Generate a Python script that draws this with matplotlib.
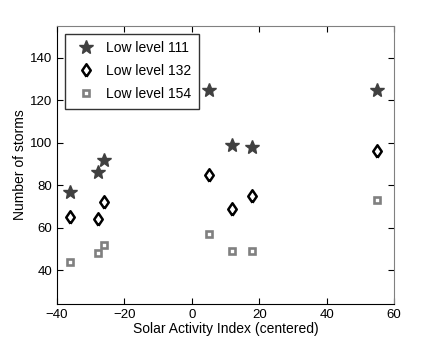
import matplotlib
matplotlib.use('Agg')
import matplotlib.pyplot as plt

plt.rcParams['font.family'] = ['Liberation Sans', 'DejaVu Sans']

# data
solar_x = [-36, -27.7, -26, 5, 12, 18, 55]
storms_111 = [77, 86, 92, 125, 99, 98, 125]
storms_132 = [65, 64, 72, 85, 69, 75, 96]
storms_154 = [44, 48, 52, 57, 49, 49, 73]

# matlab-style diamond, a bit fatter than matplotlib's 'd'
diamond = [(0, -1), (0.68, 0), (0, 1), (-0.68, 0), (0, -1)]

fig = plt.figure(figsize=(4.36, 3.43), dpi=100)
ax = fig.add_axes([57/436.0, 1 - 304/343.0, 337/436.0, 278/343.0])

ax.plot(solar_x, storms_111, linestyle='none', marker='*', markersize=10,
        color='#404040', label='Low level 111')
ax.plot(solar_x, storms_132, linestyle='none', marker=diamond, markersize=9,
        markerfacecolor='white', markeredgecolor='black', markeredgewidth=1.8,
        label='Low level 132')
ax.plot(solar_x, storms_154, linestyle='none', marker='s', markersize=4.2,
        markerfacecolor='white', markeredgecolor='#808080', markeredgewidth=1.9,
        label='Low level 154')

ax.set_xlim(-40, 60)
ax.set_ylim(24, 155)
ax.set_xticks([-40, -20, 0, 20, 40, 60])
ax.set_yticks([40, 60, 80, 100, 120, 140])
ax.tick_params(direction='in', top=True, right=True, labelsize=9.5, length=4)
ax.set_xlabel('Solar Activity Index (centered)', fontsize=10, labelpad=1)
ax.set_ylabel('Number of storms', fontsize=10, labelpad=2)
ax.spines['right'].set_color('#808080')
ax.spines['top'].set_color('#808080')

leg = ax.legend(loc='upper left', fontsize=10, numpoints=1, frameon=True,
                fancybox=False, borderaxespad=0.55, handletextpad=0.4,
                labelspacing=0.65, borderpad=0.55)
leg.get_frame().set_edgecolor('black')
leg.get_frame().set_linewidth(1.0)

fig.savefig('out.png', dpi=100)
